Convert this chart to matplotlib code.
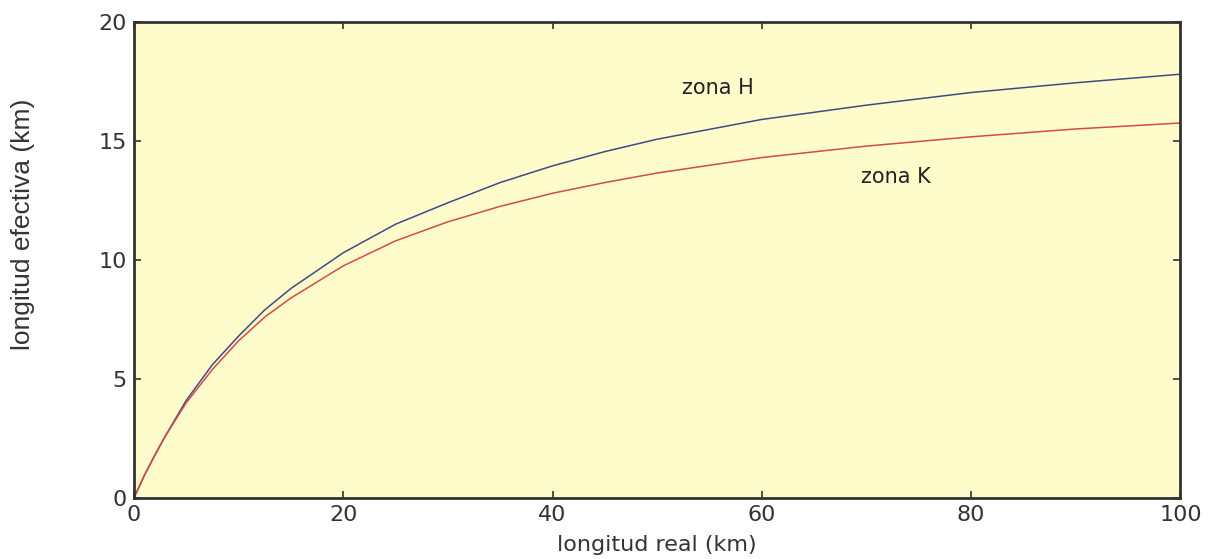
import matplotlib.pyplot as plt

# Datos
longitud_real = [0, 1, 2, 3, 5, 7.5, 10, 12.5, 15, 20, 25, 30, 35, 40, 45, 50, 60, 70, 80, 90, 100]
zona_H = [0, 0.95, 1.8, 2.6, 4.1, 5.6, 6.8, 7.9, 8.8, 10.3, 11.5, 12.4, 13.25, 13.95, 14.55, 15.07, 15.9, 16.5, 17.03, 17.44, 17.8]
zona_K = [0, 0.95, 1.8, 2.6, 4.0, 5.4, 6.6, 7.6, 8.4, 9.75, 10.8, 11.6, 12.25, 12.8, 13.25, 13.65, 14.3, 14.78, 15.17, 15.5, 15.75]

xticks = [0, 20, 40, 60, 80, 100]
yticks = [0, 5, 10, 15, 20]

plt.rcParams['font.family'] = ['DejaVu Sans']

fig = plt.figure(figsize=(12.17, 5.59), dpi=100)
ax = fig.add_axes([0.110, 0.109, 0.860, 0.852])
ax.set_facecolor('#fffccc')

ax.plot(longitud_real, zona_H, color='#3f4a86', lw=1.1)
ax.plot(longitud_real, zona_K, color='#d24a4a', lw=1.1)

ax.text(52.4, 17.2, 'zona H', fontsize=15, va='center', color='#222222')
ax.text(69.5, 13.5, 'zona K', fontsize=15, va='center', color='#222222')

ax.set_xlim(0, 100)
ax.set_ylim(0, 20)
ax.set_xticks(xticks)
ax.set_yticks(yticks)
ax.tick_params(direction='in', length=5, width=1.2, top=True, right=True,
               labelsize=16, colors='#333333', pad=5)
for s in ax.spines.values():
    s.set_linewidth(2)
    s.set_color('#333333')

ax.set_xlabel('longitud real (km)', fontsize=16, labelpad=7, color='#333333')
ax.set_ylabel('longitud efectiva (km)', fontsize=19, color='#333333',
              family=['Liberation Sans Narrow', 'Liberation Sans'])
ax.yaxis.set_label_coords(-0.094, 0.574)

fig.savefig('out.png', dpi=100)
